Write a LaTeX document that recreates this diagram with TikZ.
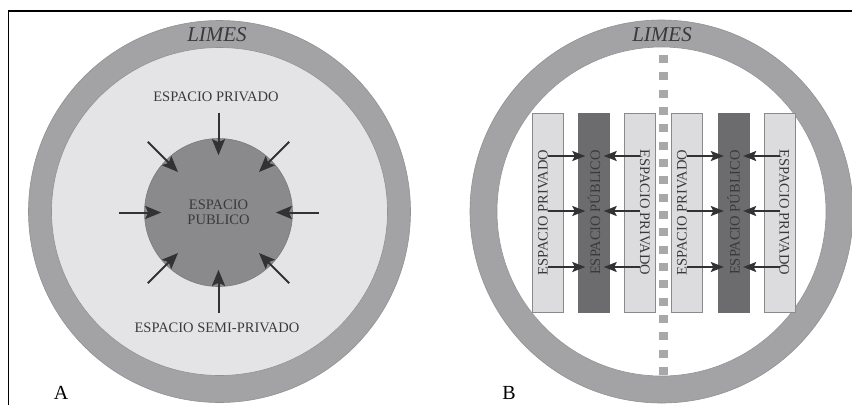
\documentclass[tikz,border=0pt]{standalone}
\usepackage{fontspec}
\setmainfont{Liberation Serif}
\usepackage{xcolor}
\usetikzlibrary{arrows.meta}

\definecolor{limesgray}{RGB}{163,163,166}
\definecolor{limesedge}{RGB}{145,145,148}
\definecolor{semilight}{RGB}{228,228,230}
\definecolor{pubgray}{RGB}{138,138,140}
\definecolor{pubedge}{RGB}{122,122,124}
\definecolor{barlight}{RGB}{220,220,222}
\definecolor{baredge}{RGB}{138,138,140}
\definecolor{bardark}{RGB}{108,108,110}
\definecolor{squaregray}{RGB}{168,168,170}
\definecolor{arrowgray}{RGB}{50,50,53}
\definecolor{textgray}{RGB}{58,58,60}

\tikzset{
	ring/.style={fill=limesgray, draw=limesedge, line width=0.6pt},
	spacetext/.style={text=textgray, font=\fontsize{14.5}{15.5}\selectfont, align=center, inner sep=0pt},
	limestext/.style={text=textgray, font=\fontsize{21}{24}\selectfont\itshape, inner sep=0pt},
	paneltext/.style={font=\fontsize{20}{24}\selectfont, inner sep=0pt},
	lightbar/.style={draw=baredge, fill=barlight, line width=0.6pt, minimum width=31pt, minimum height=199pt, inner sep=0pt},
	darkbar/.style={draw=bardark, fill=bardark, minimum width=31pt, minimum height=199pt, inner sep=0pt},
	arr/.style={draw=arrowgray, line width=2pt, -{Stealth[length=16pt, width=13pt, inset=3pt]}, shorten >=-17pt},
	barr/.style={draw=arrowgray, line width=1.7pt, -{Stealth[length=13pt, width=10pt, inset=2.5pt]}},
	squares/.style={draw=squaregray, line width=9pt, dash pattern=on 8pt off 9.33pt}
}

\begin{document}
\begin{tikzpicture}[x=1pt, y=-1pt]
	\useasboundingbox (0,0) rectangle (852,405);
	\draw[line width=1.5pt] (8.5,405) -- (8.5,11) -- (852,11);

	% A: concentric spaces
	\filldraw[ring] (219.5,211.5) circle (191pt);
	\filldraw[fill=semilight, draw=limesedge, line width=0.6pt] (219.5,211.5) ellipse (168pt and 164pt);
	\node[limestext] (limesA) at (217,35) {LIMES};
	\node[spacetext] (priv) at (216,97) {ESPACIO PRIVADO};
	\node[spacetext] (semi) at (217,328) {ESPACIO SEMI-PRIVADO};
	\node[circle, fill=pubgray, draw=pubedge, line width=0.6pt, minimum size=148pt, spacetext] (pub) at (218.5,212.5) {ESPACIO\\PUBLICO};

	\coordinate (tN) at (218.5,112.5);
	\coordinate (tNE) at (289.2,141.8);
	\coordinate (tE) at (318.5,212.5);
	\coordinate (tSE) at (289.2,283.2);
	\coordinate (tS) at (218.5,312.5);
	\coordinate (tSW) at (147.8,283.2);
	\coordinate (tW) at (118.5,212.5);
	\coordinate (tNW) at (147.8,141.8);
	\draw[arr] (tN) -- (pub);
	\draw[arr] (tNE) -- (pub);
	\draw[arr] (tE) -- (pub);
	\draw[arr] (tSE) -- (pub);
	\draw[arr] (tS) -- (pub);
	\draw[arr] (tSW) -- (pub);
	\draw[arr] (tW) -- (pub);
	\draw[arr] (tNW) -- (pub);
	\node[paneltext] (labA) at (61,393) {A};

	% B: linear spaces
	\filldraw[ring] (661.5,211.5) circle (191.5pt);
	\filldraw[fill=white, draw=limesedge, line width=0.6pt] (661.5,211.5) circle (164.5pt);
	\node[limestext] (limesB) at (662,35) {LIMES};
	\draw[squares] (663,55) -- (663,375);

	\node[lightbar] (priv1) at (547.5,212.5) {};
	\node[darkbar] (pub1) at (594,212.5) {};
	\node[lightbar] (priv2) at (640,212.5) {};
	\node[lightbar] (priv3) at (686.5,212.5) {};
	\node[darkbar] (pub2) at (733.5,212.5) {};
	\node[lightbar] (priv4) at (779.5,212.5) {};

	\node[spacetext, rotate=90, anchor=base] (priv1txt) at (priv1) {ESPACIO PRIVADO};
	\node[spacetext, rotate=90] (pub1txt) at (pub1) {ESPACIO PÚBLICO};
	\node[spacetext, rotate=-90, anchor=base] (priv2txt) at (priv2) {ESPACIO PRIVADO};
	\node[spacetext, rotate=90, anchor=base] (priv3txt) at (priv3) {ESPACIO PRIVADO};
	\node[spacetext, rotate=90] (pub2txt) at (pub2) {ESPACIO PÚBLICO};
	\node[spacetext, rotate=-90, anchor=base] (priv4txt) at (priv4) {ESPACIO PRIVADO};

	\coordinate (row1) at (0,156);
	\coordinate (row2) at (0,211);
	\coordinate (row3) at (0,267);
	\draw[barr, shorten >=-7pt] (priv1 |- row1) -- (pub1.west |- row1);
	\draw[barr, shorten >=-7pt] (priv1 |- row2) -- (pub1.west |- row2);
	\draw[barr, shorten >=-7pt] (priv1 |- row3) -- (pub1.west |- row3);
	\draw[barr, shorten >=-6pt] (priv2 |- row1) -- (pub1.east |- row1);
	\draw[barr, shorten >=-6pt] (priv2 |- row2) -- (pub1.east |- row2);
	\draw[barr, shorten >=-6pt] (priv2 |- row3) -- (pub1.east |- row3);
	\draw[barr, shorten >=-6pt] (priv3 |- row1) -- (pub2.west |- row1);
	\draw[barr, shorten >=-6pt] (priv3 |- row2) -- (pub2.west |- row2);
	\draw[barr, shorten >=-6pt] (priv3 |- row3) -- (pub2.west |- row3);
	\draw[barr, shorten >=-6pt] (priv4 |- row1) -- (pub2.east |- row1);
	\draw[barr, shorten >=-6pt] (priv4 |- row2) -- (pub2.east |- row2);
	\draw[barr, shorten >=-6pt] (priv4 |- row3) -- (pub2.east |- row3);
	\node[paneltext] (labB) at (509,393) {B};
\end{tikzpicture}
\end{document}
